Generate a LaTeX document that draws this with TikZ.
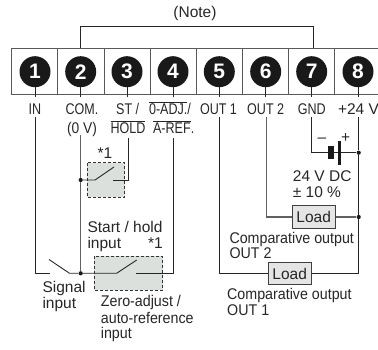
\documentclass[tikz,border=0pt]{standalone}
\usepackage{fontspec}
\setmainfont{Liberation Sans}
\newcommand{\cond}[1]{\scalebox{0.81}[1]{#1}}
\newcommand{\tcond}[1]{\scalebox{0.92}[1]{#1}}
\newcommand{\ovl}[1]{$\overline{\hbox{#1}}$}
\tikzset{
  every node/.style={text=black!85, font=\fontsize{15.5}{17}\selectfont},
  lab/.style={inner sep=0pt, yshift=-5.5pt},
  lw/.style={lab, anchor=base west},
  lc/.style={lab, anchor=base},
  lr/.style={lab, anchor=base east},
  term/.style={circle, fill=black!90, minimum size=31pt, inner sep=0pt, text=white, font=\fontsize{21}{21}\selectfont\bfseries},
  wire/.style={draw=black!85, line width=0.9pt},
  gwire/.style={draw=black!62, line width=1.1pt},
  frame/.style={draw=black!65, line width=0.9pt},
  dashbox/.style={draw=black!80, fill=black!10!green!2!white!88!black, densely dashed, line width=0.9pt, inner sep=0pt},
  loadbox/.style={rectangle, draw=black!75, fill=black!10, line width=1pt, inner sep=0pt, minimum width=43pt, minimum height=22.5pt},
  dot/.style={circle, fill=black!90, minimum size=4.2pt, inner sep=0pt},
  batt/.style={fill=black!90, inner sep=0pt, rectangle},
}
\begin{document}
\begin{tikzpicture}[x=1pt,y=-1pt]
\useasboundingbox (0,0) rectangle (378,350);
% frame
\draw[frame] (378,48) -- (11.7,48) -- (11.7,94) -- (378,94);
\foreach \x in {57.7,104,150.3,196.3,242.3,288.7,334.7}
  \draw[frame] (\x,48) -- (\x,94);
% stubs and terminals
\foreach \n/\x/\y in {1/35/71.7,2/80.7/71.7,3/127/71.7,4/173/71.7,5/219.3/71.7,6/265.7/71.7,7/311.7/71.7,8/358/71.7}{
  \coordinate (s\n) at (\x,97);
  \draw[wire] (\x,\y) -- (s\n);
  \node[term] (t\n) at (\x,\y) {\n};
}
% note bracket
\node[lc] (note) at (195,12) {(Note)};
\coordinate (na) at (80.7,48);
\coordinate (nb) at (313.3,48);
\draw[wire] (na) -- (80.7,26) -- (313.3,26) -- (nb);
% labels
\node[lc] (l1) at (35,109) {\cond{IN}};
\node[lc] (l2) at (82,109) {\cond{COM.}};
\node[lc] (l2b) at (82,128) {\scalebox{0.89}[1]{(0 V)}};
\node[lc] (l3) at (127.7,109) {\cond{ST /}};
\node[lc] (l3b) at (128,128) {\cond{\ovl{HOLD}}};
\node[lc] (l4) at (170,109) {\cond{\ovl{0-ADJ.}/}};
\node[lc] (l4b) at (173.7,128) {\cond{\ovl{A-REF}.}};
\node[lc] (l5) at (218.5,109) {\cond{OUT 1}};
\node[lc] (l6) at (265.7,109) {\cond{OUT 2}};
\node[lc] (l7) at (311.7,109) {\cond{GND}};
\node[lc] (l8) at (358.5,109) {+24 V};
% dashed boxes
\draw[dashbox] (87.3,162.7) rectangle (124.7,197);
\draw[dashbox] (94,256) rectangle (162.7,290);
% coordinates
\coordinate (w1) at (35.5,117);
\coordinate (w2) at (80.7,135);
\coordinate (w3) at (128.3,138);
\coordinate (w4) at (173.7,138);
\coordinate (w5) at (219.3,117);
\coordinate (w6) at (266.7,117);
\coordinate (w7) at (311.3,117);
\coordinate (w8) at (358.7,117);
\node[dot] (j1) at (80.7,180) {};
\node[dot] (j2) at (80.7,273.3) {};
\node[dot] (j3) at (358.7,152.7) {};
\node[dot] (j4) at (358.7,217) {};
% COM wire
\draw[gwire] (w2) -- (j1) -- (j2);
% start/hold switch
\coordinate (a1) at (95,180);
\coordinate (a2) at (114,167);
\coordinate (a3) at (113.3,180);
\draw[wire] (j1) -- (a1) -- (a2);
\draw[wire] (a3) -- (128.3,180) -- (w3);
% signal & zero switch
\coordinate (b1) at (50,273.3);
\coordinate (b2) at (49,259.5);
\coordinate (b3) at (69.5,273.3);
\coordinate (b4) at (116.7,273.3);
\coordinate (b5) at (136.7,260);
\coordinate (b6) at (136,273.3);
\draw[wire] (w1) -- (35.5,273.3) -- (b1);
\draw[wire] (b2) -- (b3) -- (j2) -- (b4) -- (b5);
\draw[wire] (b6) -- (173.7,273.3) -- (w4);
% loads
\node[loadbox] (load2) at (313.7,217) {Load};
\node[loadbox] (load1) at (289.7,273.7) {Load};
\draw[gwire] (w6) -- (266.7,217) -- (load2.west);
\draw[gwire] (load2.east) -- (j4);
\draw[wire] (w5) -- (219.3,273.3) -- (load1.west |- 0,273.3);
\draw[wire] (load1.east |- 0,273.3) -- (358.7,273.3) -- (j4) -- (j3) -- (w8);
% battery
\node[batt, minimum width=6pt, minimum height=13pt] (bn) at (331,152.7) {};
\node[batt, minimum width=3pt, minimum height=24pt] (bp) at (339.7,152.7) {};
\draw[wire] (w7) -- (311.3,152.7) -- (bn.west);
\draw[wire] (bn.east) -- (bp.west);
\draw[wire] (bp.east) -- (j3);
\node[lc] (minus) at (322,137) {–};
\node[lc] (plus) at (345.7,137) {+};
% texts
\node[lc] (n1a) at (105,153) {*1};
\node[lw] (sh) at (87.3,226.7) {Start / hold};
\node[lw] (shi) at (87.3,243) {input};
\node[lr] (n1b) at (163,243) {*1};
\node[lw] (sig) at (42.3,287) {Signal};
\node[lw] (sigi) at (42.3,303) {input};
\node[lw] (z1) at (100.7,301) {\tcond{Zero-adjust /}};
\node[lw] (z2) at (100.7,318) {\tcond{auto-reference}};
\node[lw] (z3) at (100.7,333) {\tcond{input}};
\node[lw] (v1) at (292.7,175.7) {24 V DC};
\node[lw] (v2) at (292.7,191.7) {± 10 \%};
\node[lw] (c2) at (229.3,238) {\tcond{Comparative output}};
\node[lw] (c2b) at (229.3,253) {\tcond{OUT 2}};
\node[lw] (c1) at (227,294) {\tcond{Comparative output}};
\node[lw] (c1b) at (227,310) {\tcond{OUT 1}};
\end{tikzpicture}
\end{document}
